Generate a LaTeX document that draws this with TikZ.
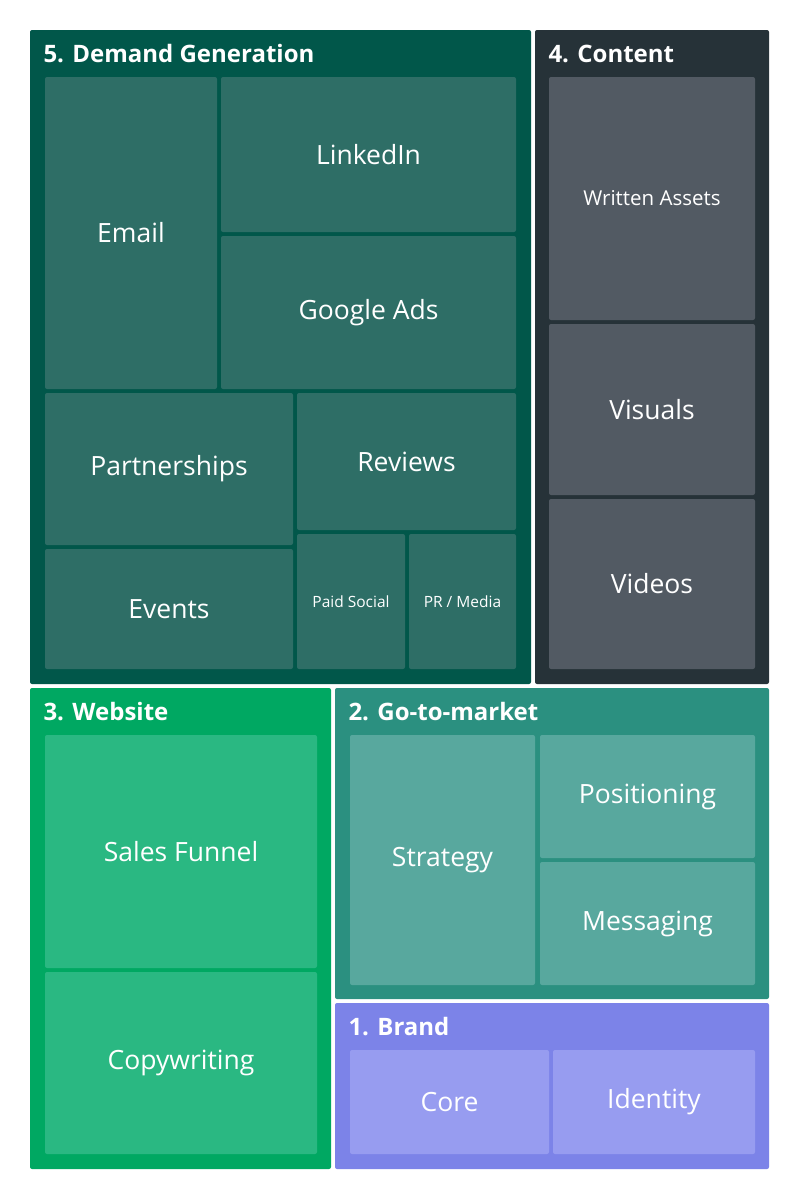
\documentclass[tikz,border=0pt]{standalone}
\usepackage{fontspec}
\setmainfont{Open Sans}
\definecolor{dg}{HTML}{01574A}\definecolor{dgc}{HTML}{2E6E66}
\definecolor{ct}{HTML}{263238}\definecolor{ctc}{HTML}{525A63}
\definecolor{ws}{HTML}{00A862}\definecolor{wsc}{HTML}{2AB882}
\definecolor{gm}{HTML}{2B9080}\definecolor{gmc}{HTML}{58A89E}
\definecolor{br}{HTML}{7C83E8}\definecolor{brc}{HTML}{979CF0}
\tikzset{grp/.style={rounded corners=2pt},
 cell/.style={rounded corners=2pt},
 ttl/.style={anchor=west,text=white,font=\fontsize{24}{26}\selectfont\bfseries},
 lbl/.style={text=white,font=\fontsize{26.5}{28}\selectfont}}
\newcommand\cellbox[7]{% name, color, x1,y1,x2,y2, text
 \fill[cell,#2] (#3,#4) rectangle (#5,#6);
 \node[lbl] (#1) at ({(#3+#5)/2},{(#4+#6)/2}) {#7};}
\begin{document}
\begin{tikzpicture}[x=1pt,y=-1pt]
\useasboundingbox (0,0) rectangle (800,1200);
\fill[white] (0,0) rectangle (800,1200);
% Demand generation
\fill[grp,dg] (30,30) rectangle (531,684);
\node[ttl] (t5) at (40,54) {5. Demand Generation};
\cellbox{email}{dgc}{45}{77}{217}{389}{Email}
\cellbox{linkedin}{dgc}{221}{77}{516}{232}{LinkedIn}
\cellbox{gads}{dgc}{221}{236}{516}{389}{Google Ads}
\cellbox{part}{dgc}{45}{393}{293}{545}{Partnerships}
\cellbox{rev}{dgc}{297}{393}{516}{530}{Reviews}
\cellbox{events}{dgc}{45}{549}{293}{669}{Events}
\cellbox{paid}{dgc}{297}{534}{405}{669}{\fontsize{15.5}{17}\selectfont Paid Social}
\cellbox{pr}{dgc}{409}{534}{516}{669}{\fontsize{15.5}{17}\selectfont PR / Media}
% Content
\fill[grp,ct] (535,30) rectangle (769,684);
\node[ttl] (t4) at (545,54) {4. Content};
\cellbox{written}{ctc}{549}{77}{755}{320}{\fontsize{20.5}{22}\selectfont Written Assets}
\cellbox{visuals}{ctc}{549}{324}{755}{495}{Visuals}
\cellbox{videos}{ctc}{549}{499}{755}{669}{Videos}
% Website
\fill[grp,ws] (30,688) rectangle (331,1169);
\node[ttl] (t3) at (40,712) {3. Website};
\cellbox{funnel}{wsc}{45}{735}{317}{968}{Sales Funnel}
\cellbox{copy}{wsc}{45}{972}{317}{1154}{Copywriting}
% Go-to-market
\fill[grp,gm] (335,688) rectangle (769,999);
\node[ttl] (t2) at (345,712) {2. Go-to-market};
\cellbox{strat}{gmc}{350}{735}{535}{985}{Strategy}
\cellbox{pos}{gmc}{540}{735}{755}{858}{Positioning}
\cellbox{msg}{gmc}{540}{862}{755}{985}{Messaging}
% Brand
\fill[grp,br] (335,1003) rectangle (769,1169);
\node[ttl] (t1) at (345,1027) {1. Brand};
\cellbox{core}{brc}{350}{1050}{549}{1154}{Core}
\cellbox{ident}{brc}{553}{1050}{755}{1154}{Identity}
\end{tikzpicture}
\end{document}
